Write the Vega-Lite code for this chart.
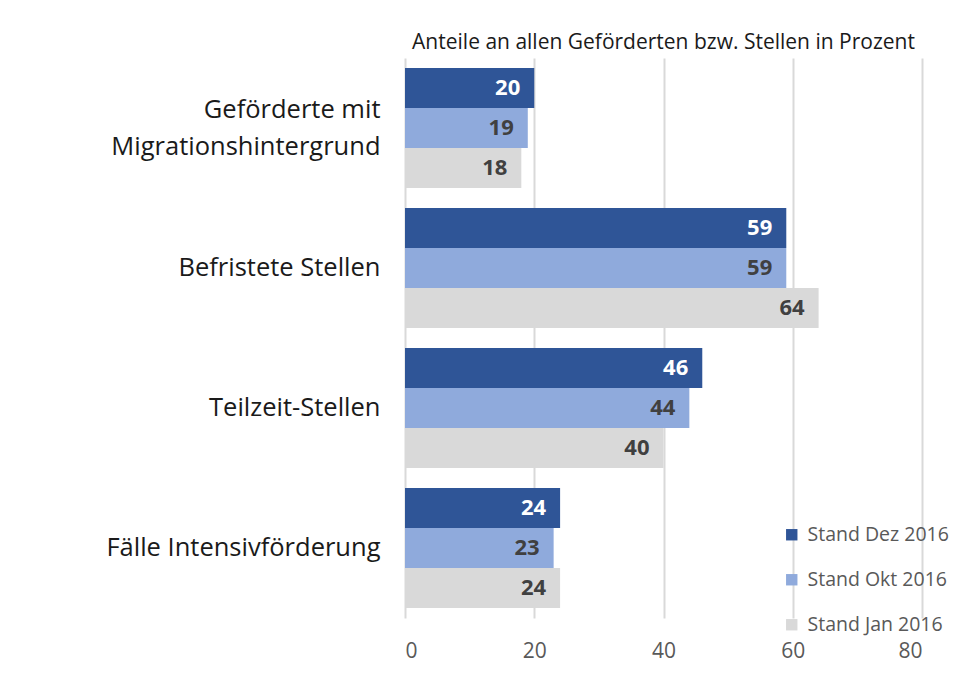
{
  "$schema": "https://vega.github.io/schema/vega-lite/v6.json",
  "width": 517,
  "height": 560,
  "autosize": {"type": "none"},
  "padding": {"left": 405, "top": 58, "right": 33, "bottom": 55},
  "background": "white",
  "title": {
    "text": "Anteile an allen Geförderten bzw. Stellen in Prozent",
    "fontSize": 21,
    "font": "Open Sans",
    "fontWeight": "normal",
    "color": "#1a1a1a",
    "offset": 5,
    "anchor": "middle"
  },
  "config": {"view": {"stroke": null}},
  "data": {
    "values": [
      {"kategorie": "Geförderte mit Migrationshintergrund", "serie": "Stand Dez 2016", "wert": 20},
      {"kategorie": "Geförderte mit Migrationshintergrund", "serie": "Stand Okt 2016", "wert": 19},
      {"kategorie": "Geförderte mit Migrationshintergrund", "serie": "Stand Jan 2016", "wert": 18},
      {"kategorie": "Befristete Stellen", "serie": "Stand Dez 2016", "wert": 59},
      {"kategorie": "Befristete Stellen", "serie": "Stand Okt 2016", "wert": 59},
      {"kategorie": "Befristete Stellen", "serie": "Stand Jan 2016", "wert": 64},
      {"kategorie": "Teilzeit-Stellen", "serie": "Stand Dez 2016", "wert": 46},
      {"kategorie": "Teilzeit-Stellen", "serie": "Stand Okt 2016", "wert": 44},
      {"kategorie": "Teilzeit-Stellen", "serie": "Stand Jan 2016", "wert": 40},
      {"kategorie": "Fälle Intensivförderung", "serie": "Stand Dez 2016", "wert": 24},
      {"kategorie": "Fälle Intensivförderung", "serie": "Stand Okt 2016", "wert": 23},
      {"kategorie": "Fälle Intensivförderung", "serie": "Stand Jan 2016", "wert": 24}
    ]
  },
  "encoding": {
    "y": {
      "field": "kategorie",
      "type": "nominal",
      "sort": ["Geförderte mit Migrationshintergrund", "Befristete Stellen", "Teilzeit-Stellen", "Fälle Intensivförderung"],
      "scale": {"paddingInner": 0.142857, "paddingOuter": 0.0714},
      "axis": {
        "title": null,
        "domain": false,
        "ticks": false,
        "grid": false,
        "labelPadding": 25,
        "labelFontSize": 25.5,
        "labelFont": "Open Sans",
        "labelColor": "#1a1a1a",
        "labelLineHeight": 37,
        "labelLimit": 400,
        "labelOffset": {
          "condition": {"test": "datum.value == 'Geförderte mit Migrationshintergrund'", "value": -18},
          "value": 0
        },
        "labelExpr": "datum.value == 'Geförderte mit Migrationshintergrund' ? ['Geförderte mit', 'Migrationshintergrund'] : datum.value"
      }
    },
    "x": {
      "field": "wert",
      "type": "quantitative",
      "scale": {"domain": [0, 80]},
      "axis": {
        "title": null,
        "values": [0, 20, 40, 60, 80],
        "domain": false,
        "ticks": false,
        "grid": true,
        "gridColor": "#D9D9D9",
        "gridWidth": 2,
        "labelPadding": 22,
        "labelFontSize": 21,
        "labelFont": "Open Sans",
        "labelColor": "#595959"
      }
    },
    "yOffset": {
      "field": "serie",
      "type": "nominal",
      "sort": ["Stand Dez 2016", "Stand Okt 2016", "Stand Jan 2016"]
    }
  },
  "layer": [
    {
      "mark": {"type": "bar"},
      "encoding": {
        "color": {
          "field": "serie",
          "type": "nominal",
          "sort": ["Stand Dez 2016", "Stand Okt 2016", "Stand Jan 2016"],
          "scale": {
            "domain": ["Stand Dez 2016", "Stand Okt 2016", "Stand Jan 2016"],
            "range": ["#2F5597", "#8FAADC", "#D9D9D9"]
          },
          "legend": {
            "title": null,
            "orient": "none",
            "legendX": 377,
            "legendY": 467,
            "symbolType": "square",
            "symbolSize": 130,
            "symbolStrokeWidth": 0,
            "labelFontSize": 19.5,
            "labelFont": "Open Sans",
            "labelColor": "#595959",
            "labelOffset": 6,
            "rowPadding": 24,
            "labelLimit": 300
          }
        }
      }
    },
    {
      "mark": {"type": "text", "align": "right", "dx": -14, "fontWeight": "bold", "fontSize": 22, "font": "Open Sans"},
      "encoding": {
        "text": {"field": "wert", "type": "quantitative"},
        "color": {
          "condition": {"test": "datum.serie === 'Stand Dez 2016'", "value": "white"},
          "value": "#404040"
        }
      }
    }
  ]
}
